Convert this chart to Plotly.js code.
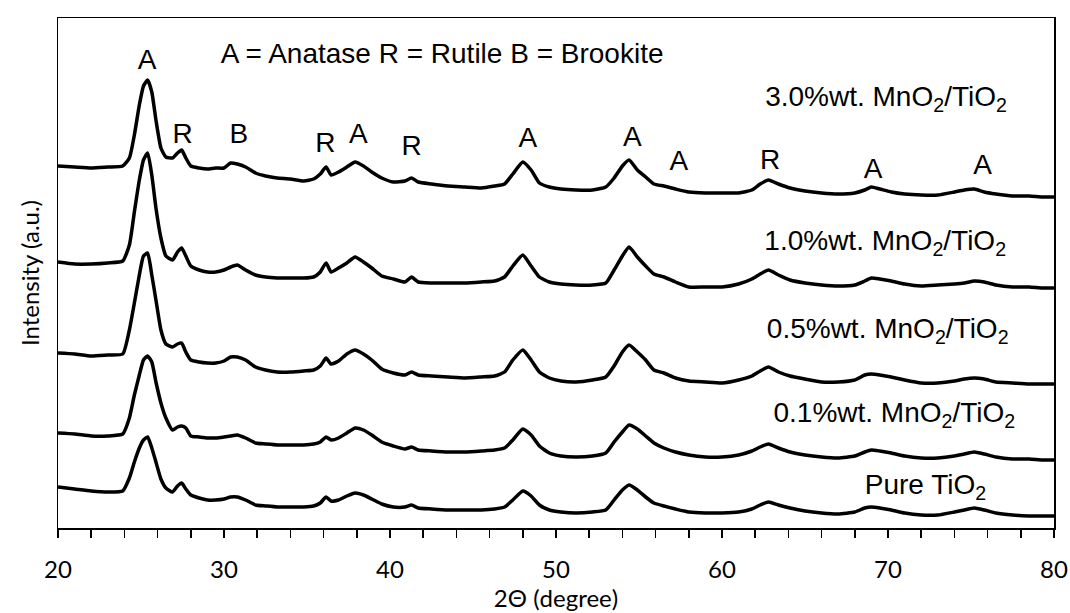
<!DOCTYPE html>
<html>
<head>
<meta charset="utf-8">
<script src="https://cdn.plot.ly/plotly-3.0.1.min.js"></script>
<style>html,body{margin:0;padding:0;background:#fff;}#chart{width:1070px;height:613px;}</style>
</head>
<body>
<div id="chart"></div>
<script>
// 2-theta positions (degree)
const twoTheta = [20,21,22,23,23.9,24.3,24.6,24.9,25.15,25.4,25.65,25.9,26.2,26.5,26.9,27.2,27.45,27.7,28.0,28.5,
29.0,29.5,30.0,30.4,30.8,31.3,31.9,32.5,33.2,34.0,34.8,35.4,35.8,36.15,36.45,36.9,37.4,37.9,38.4,38.9,
39.5,40.2,40.9,41.3,41.7,42.5,43.5,44.5,45.5,46.3,46.9,47.4,48.0,48.5,49.0,49.6,50.3,51.2,52.2,53.0,
53.5,54.0,54.4,54.9,55.4,55.9,56.5,57.2,58.0,59.0,60.0,61.0,61.8,62.3,62.8,63.4,64.1,65.0,66.0,67.0,
68.0,68.6,69.0,69.5,70.2,71.0,72.0,73.0,74.0,74.6,75.2,75.8,76.5,77.5,78.5,79.3,80.0];

// Stacked intensities (a.u.)
const mn30 = [362,361,360,361,362,370,393,423,442,448,436,408,380,371,370,375,378,370,362,360,
359,360,360,365,364,361,355,352,350,349,347,349,354,361,353,356,361,366,362,356,
350,346,347,350,346,344,342,341,340,342,344,354,366,358,345,341,339,338,338,341,
350,362,368,358,351,344,342,339,336,335,335,335,338,344,348,344,340,337,335,334,
335,338,341,339,336,334,333,333,336,338,339,336,334,332,332,331,331];
const mn10 = [266,264,264,265,267,283,316,348,368,375,353,320,290,272,268,276,280,272,262,258,
256,256,258,261,263,258,253,251,250,250,250,251,256,265,256,260,265,271,266,260,
252,249,246,251,246,245,245,245,246,247,251,262,273,262,251,246,244,243,243,245,
258,272,281,271,262,254,251,246,241,241,241,244,249,254,258,253,248,245,243,242,
243,247,250,249,247,244,242,243,244,245,247,246,243,241,241,240,240];
const mn05 = [175,174,172,173,174,198,225,253,272,275,253,228,198,184,181,184,185,176,168,166,
165,165,167,171,171,168,161,158,156,156,157,158,162,170,164,167,174,178,174,168,
159,155,153,156,153,152,151,150,151,152,156,168,178,168,156,150,147,146,148,151,
162,176,183,176,168,158,155,150,147,146,145,148,152,157,161,156,152,149,146,146,
148,153,154,153,151,148,145,145,147,149,150,149,146,145,144,144,144];
const mn01 = [95,94,92,92,94,110,133,153,168,172,166,146,125,110,98,101,102,100,92,91,
90,90,91,92,93,90,85,84,83,83,83,84,86,91,88,90,95,100,98,93,
86,82,79,81,78,77,76,76,77,78,80,88,99,93,82,75,72,71,72,75,
86,96,103,99,92,85,80,76,73,71,71,73,77,81,84,80,76,73,71,70,
72,76,78,77,75,72,70,70,72,74,76,74,71,69,69,68,68];
const pureTiO2 = [41,39,37,36,37,50,66,80,88,91,80,66,49,40,36,42,45,39,33,30,
28,28,29,31,31,28,23,22,21,21,21,22,25,31,27,28,32,35,33,29,
24,21,21,23,20,19,18,18,18,19,21,28,37,32,23,18,16,15,16,18,
28,38,43,38,31,25,22,19,16,15,15,16,19,23,26,23,20,17,15,14,
16,20,21,20,18,15,13,13,16,18,20,18,15,13,12,12,12];

const seriesNames = ["3.0%wt. MnO<sub>2</sub>/TiO<sub>2</sub>","1.0%wt. MnO<sub>2</sub>/TiO<sub>2</sub>",
  "0.5%wt. MnO<sub>2</sub>/TiO<sub>2</sub>","0.1%wt. MnO<sub>2</sub>/TiO<sub>2</sub>","Pure TiO<sub>2</sub>"];
const seriesData = [mn30, mn10, mn05, mn01, pureTiO2];
const labelX = [62.6, 62.55, 62.7, 63.1, 68.6];
const labelY = [429, 285, 197, 113, 41];

// Peak markers
const peakText = ["A","R","B","R","A","R","A","A","A","R","A","A"];
const peakX = [25.36,27.5,30.9,36.1,38.1,41.3,48.3,54.6,57.4,62.9,69.1,75.7];
const peakY = [466,392,392,383,392,380,388,389,365,366,357,361];

const legendText = ["A = Anatase R = Rutile B = Brookite"];
const legendX = [29.8];
const legendY = [472];

const traces = seriesData.map((d,i)=>({
  x: twoTheta, y: d, type:'scatter', mode:'lines', name: seriesNames[i],
  line:{color:'#000', width:3.5, shape:'spline', smoothing:0.5}, hoverinfo:'skip'
}));

const txtFont = {family:'Liberation Sans, Arial, sans-serif', size:28, color:'#000'};
traces.push({x:labelX, y:labelY, text:seriesNames, type:'scatter', mode:'text',
  textposition:'middle right', textfont:txtFont, hoverinfo:'skip'});
traces.push({x:peakX, y:peakY, text:peakText, type:'scatter', mode:'text',
  textposition:'middle center', textfont:txtFont, hoverinfo:'skip'});
traces.push({x:legendX, y:legendY, text:legendText, type:'scatter', mode:'text',
  textposition:'middle right', textfont:txtFont, hoverinfo:'skip'});

const layout = {
  width:1070, height:613,
  margin:{l:58, r:16, t:18, b:85},
  paper_bgcolor:'#fff', plot_bgcolor:'#fff',
  showlegend:false,
  font:{family:'Lato, Open Sans, sans-serif', color:'#000'},
  xaxis:{range:[20,80], dtick:10, tick0:20, ticks:'outside', ticklen:8, tickwidth:1.5, tickcolor:'#000',
    ticklabelstandoff:12,
    showline:true, linecolor:'#000', linewidth:1.5, mirror:true, showgrid:false, zeroline:false,
    tickfont:{family:'Lato, sans-serif', size:24, color:'#000'},
    minor:{dtick:2, ticks:'outside', ticklen:8, tickwidth:1.5, tickcolor:'#000', showgrid:false},
    title:{text:'2Θ (degree)', font:{family:'Lato, sans-serif', size:24, color:'#000'}, standoff:0}},
  yaxis:{range:[0,510], showticklabels:false, ticks:'', showline:true, linecolor:'#000', linewidth:1.5,
    mirror:true, showgrid:false, zeroline:false,
    title:{text:'Intensity (a.u.)', font:{family:'Lato, sans-serif', size:24, color:'#000'}, standoff:10}},
};
Plotly.newPlot('chart', traces, layout, {staticPlot:true, displayModeBar:false});
</script>
</body>
</html>
